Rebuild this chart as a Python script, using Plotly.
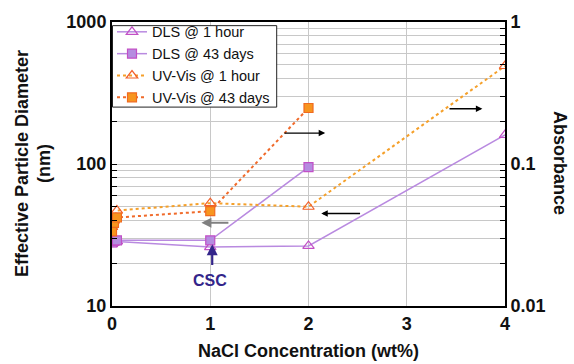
import math
import plotly.graph_objects as go

# ---- data ----
dls_1h_x = [0, 0.02, 0.05, 1, 2, 4]
dls_1h_y = [27.3, 28.0, 28.5, 26.0, 26.5, 160]
dls_43d_x = [0, 0.02, 0.05, 1, 2]
dls_43d_y = [28.0, 28.7, 29.0, 29.0, 95]
uv_1h_x = [0, 0.02, 0.05, 1, 2, 4]
uv_1h_y = [0.036, 0.040, 0.047, 0.053, 0.050, 0.49]
uv_43d_x = [0, 0.02, 0.05, 1, 2]
uv_43d_y = [0.0335, 0.0385, 0.042, 0.0465, 0.248]

x_ticks = [0, 1, 2, 3, 4]
left_decades = [10, 100, 1000]
right_decades = [0.01, 0.1, 1]

# arrows: (x_tail, x_head, y_value_on_left_axis, colour)
arrows = [
    (1.74, 2.17, 165, "black"),
    (3.42, 3.77, 245, "black"),
    (2.54, 2.13, 44.8, "black"),
    (1.20, 0.91, 38.5, "#808080"),
]

FONT = "Liberation Sans"
purple_line = "#b98ae0"
purple_edge = "#c24fc6"
purple_fill = "#b58ce0"
orange_line1 = "#f5a02a"
orange_edge1 = "#f2602a"
orange_line2 = "#f06a2a"
orange_fill2 = "#f7951f"
orange_edge2 = "#f06a20"

# plot-area geometry in pixels (for paper-coordinate placement of decorations)
W, H = 574, 364
L, R, T, B = 112, 69, 18, 58
PW, PH = W - L - R, H - T - B


def px_x(px):
    return (px - L) / PW


def px_y(py):
    return (H - B - py) / PH


def log_ticks(decades):
    vals, text = [], []
    for i, d in enumerate(decades):
        vals.append(d)
        text.append("%g" % d)
        if i < len(decades) - 1:
            for k in range(2, 10):
                vals.append(d * k)
                text.append("")
    return vals, text


lv, lt = log_ticks(left_decades)
rv, rt = log_ticks(right_decades)

fig = go.Figure()
fig.add_trace(go.Scatter(
    x=dls_1h_x, y=dls_1h_y, name="DLS @ 1 hour", mode="lines+markers",
    line=dict(color=purple_line, width=1.5),
    marker=dict(symbol="triangle-up-open", size=10, color=purple_edge, line=dict(width=1.2)),
))
fig.add_trace(go.Scatter(
    x=dls_43d_x, y=dls_43d_y, name="DLS @ 43 days", mode="lines+markers",
    line=dict(color=purple_line, width=1.5),
    marker=dict(symbol="square", size=9, color=purple_fill, line=dict(color=purple_edge, width=1.2)),
))
fig.add_trace(go.Scatter(
    x=uv_1h_x, y=uv_1h_y, name="UV-Vis @ 1 hour", mode="lines+markers", yaxis="y2",
    line=dict(color=orange_line1, width=2, dash="dot"),
    marker=dict(symbol="triangle-up-open", size=10, color=orange_edge1, line=dict(width=1.2)),
))
fig.add_trace(go.Scatter(
    x=uv_43d_x, y=uv_43d_y, name="UV-Vis @ 43 days", mode="lines+markers", yaxis="y2",
    line=dict(color=orange_line2, width=2, dash="dot"),
    marker=dict(symbol="square", size=9, color=orange_fill2, line=dict(color=orange_edge2, width=1.2)),
))

grid = "#c8c8c8"
tickfont = dict(family=FONT, size=18, color="#111", weight="bold")

fig.update_layout(
    width=W, height=H,
    margin=dict(l=L, r=R, t=T, b=B),
    paper_bgcolor="white", plot_bgcolor="white",
    font=dict(family=FONT, color="black"),
    showlegend=True,
    legend=dict(x=0, y=px_y(11.8), xanchor="left", yanchor="top",
                bgcolor="rgba(0,0,0,0)", borderwidth=0,
                font=dict(family=FONT, size=14.5, color="#111"),
                tracegroupgap=0, itemwidth=30),
    xaxis=dict(range=[0, 4], tickvals=x_ticks, ticks="", showgrid=True, gridcolor=grid,
               gridwidth=1.4, showline=True, linecolor="black", linewidth=2, mirror=True,
               tickfont=tickfont, zeroline=False),
    yaxis=dict(type="log", range=[1, 3], tickvals=lv, ticktext=lt,
               ticks="inside", ticklen=5, tickcolor="black", tickwidth=1.2,
               showgrid=True, gridcolor=grid, gridwidth=1.4,
               showline=True, linecolor="black", linewidth=2, tickfont=tickfont,
               zeroline=False),
    yaxis2=dict(type="log", range=[-2, 0], tickvals=rv, ticktext=rt,
                overlaying="y", side="right",
                ticks="inside", ticklen=5, tickcolor="black", tickwidth=1.2,
                showgrid=False,
                showline=True, linecolor="black", linewidth=2, tickfont=tickfont,
                zeroline=False),
)

# legend frame (drawn as a shape so it can sit exactly where the reference has it)
fig.add_shape(type="rect", xref="paper", yref="paper",
              x0=px_x(112.5), x1=px_x(276.7), y0=px_y(104.3), y1=px_y(21.7),
              fillcolor="white", line=dict(color="#222", width=1), layer="above")

annotations = []
for xt, xh, yv, col in arrows:
    annotations.append(dict(
        x=xh, y=math.log10(yv), ax=xt, ay=math.log10(yv), xref="x", yref="y",
        axref="x", ayref="y", showarrow=True, arrowhead=2, arrowsize=1,
        arrowwidth=1.3 if col == "black" else 2, arrowcolor=col, text=""))

# CSC arrow and label
annotations.append(dict(
    x=1.02, y=math.log10(27.2), ax=1.02, ay=math.log10(19.0), xref="x", yref="y",
    axref="x", ayref="y", showarrow=True, arrowhead=2, arrowsize=1, arrowwidth=2.2,
    arrowcolor="#33258a", text=""))
annotations.append(dict(
    x=1.0, y=math.log10(15.2), xref="x", yref="y", showarrow=False, text="CSC",
    font=dict(family=FONT, size=16, color="#33258a", weight="bold")))

# axis titles
title_font = dict(family=FONT, size=18, color="#111", weight="bold")
annotations.append(dict(
    x=px_x(22), y=0.5, xref="paper", yref="paper", showarrow=False,
    text="Effective Particle Diameter", textangle=-90, font=title_font,
    xanchor="center", yanchor="middle"))
annotations.append(dict(
    x=px_x(44), y=0.5, xref="paper", yref="paper", showarrow=False,
    text="(nm)", textangle=-90, font=title_font, xanchor="center", yanchor="middle"))
annotations.append(dict(
    x=px_x(560), y=px_y(161), xref="paper", yref="paper", showarrow=False,
    text="Absorbance", textangle=90, font=title_font, xanchor="center", yanchor="middle"))
annotations.append(dict(
    x=0.5, y=px_y(352), xref="paper", yref="paper", showarrow=False,
    text="NaCl Concentration (wt%)", font=title_font, xanchor="center", yanchor="middle"))

fig.update_layout(annotations=annotations)
fig.write_html("out.html")
